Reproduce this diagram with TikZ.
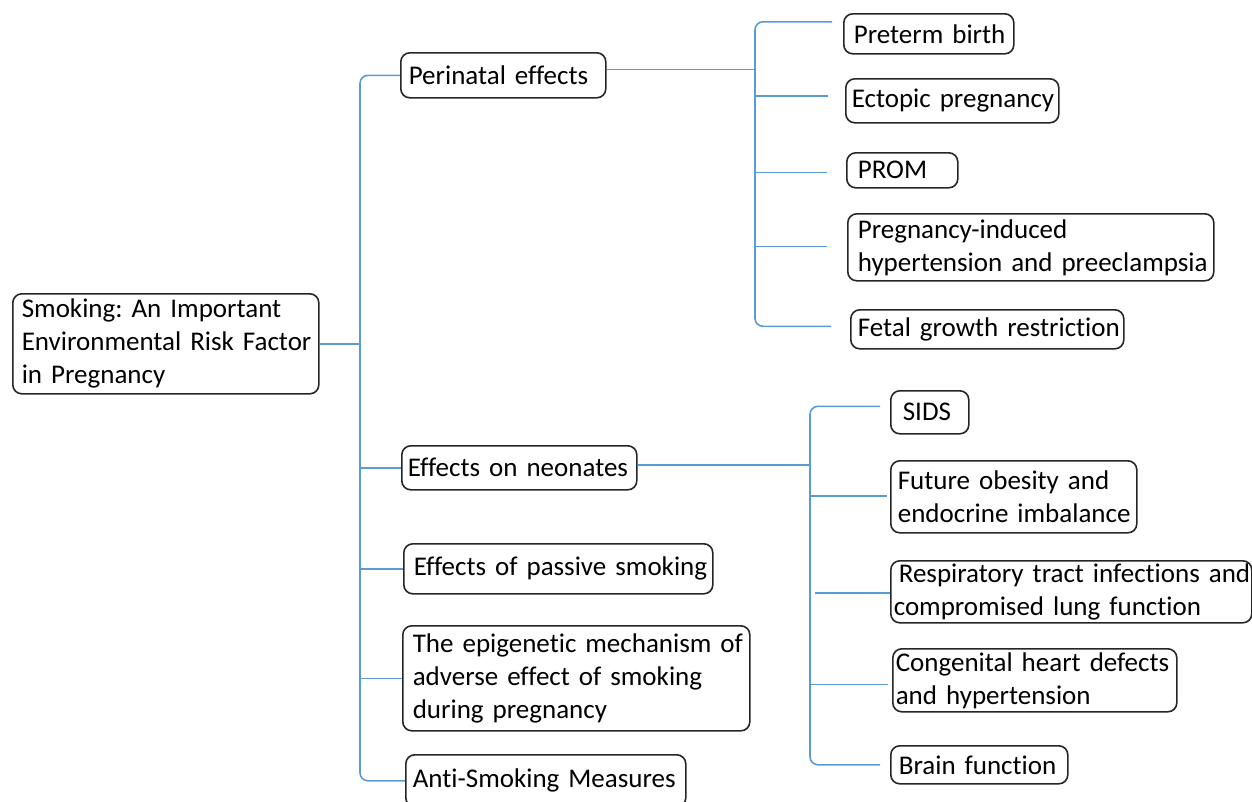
\documentclass[tikz,border=0pt]{standalone}
\usepackage{fontspec}
\setmainfont{Carlito}[Ligatures=NoCommon]
\definecolor{linec}{HTML}{5B9BD5}
\definecolor{boxc}{HTML}{262626}
\newcommand\oneline[1]{\mbox{#1}}
\begin{document}
\frenchspacing
\begin{tikzpicture}[x=1pt,y=-1pt,
  box/.style={draw=boxc, line width=1.6pt, rounded corners=9pt, fill=white,
    anchor=north west, align=left, inner ysep=0pt,
    font=\fontsize{27}{33}\selectfont\frenchspacing},
  conn/.style={draw=linec, line width=1.6pt, rounded corners=8pt}]
\useasboundingbox (0,0) rectangle (1252,801);
% level 0 / 1
\node[box, inner xsep=9pt, text width=288pt, minimum height=100pt] (root) at (12,293) {\oneline{Smoking: An Important}\\\oneline{Environmental Risk Factor}\\\oneline{in Pregnancy}};
\node[box, inner xsep=8pt, text width=189pt, minimum height=45pt] (peri) at (400,52) {\oneline{Perinatal effects}};
\node[box, inner xsep=6pt, text width=223pt, minimum height=44pt] (neo) at (401,445) {\oneline{Effects on neonates}};
\node[box, inner xsep=10pt, text width=289pt, minimum height=50pt] (pass) at (403,543) {\oneline{Effects of passive smoking}};
\node[box, inner xsep=10pt, text width=327pt, minimum height=105pt] (epi) at (402,625) {\oneline{The epigenetic mechanism of}\\\oneline{adverse effect of smoking}\\\oneline{during pregnancy}};
\node[box, inner xsep=7pt, text width=266pt, minimum height=52pt] (anti) at (405,754) {\oneline{Anti-Smoking Measures}};
% perinatal children
\node[box, inner xsep=10pt, text width=150pt, minimum height=40pt] (pre) at (843,13) {\oneline{Preterm birth}};
\node[box, inner xsep=6pt, text width=201pt, minimum height=44pt] (ect) at (845,78) {\oneline{Ectopic pregnancy}};
\node[box, inner xsep=11pt, text width=89pt, minimum height=35pt] (prom) at (846,152) {\oneline{PROM}};
\node[box, inner xsep=10pt, text width=346pt, minimum height=67pt] (preg) at (847,213) {\oneline{Pregnancy-induced}\\\oneline{hypertension and preeclampsia}};
\node[box, inner xsep=7pt, text width=259pt, minimum height=39pt] (fet) at (850,309) {\oneline{Fetal growth restriction}};
% neonate children
\node[box, inner xsep=12pt, text width=54pt, minimum height=43pt] (sids) at (890,390) {\oneline{SIDS}};
\node[box, inner xsep=7pt, text width=232pt, minimum height=72pt] (fut) at (890,460) {\oneline{Future obesity and}\\\oneline{endocrine imbalance}};
\node[box, inner xsep=3pt, text width=355pt, minimum height=62pt] (resp) at (890,560) {\oneline{\hspace{5pt}Respiratory tract infections and}\\\oneline{compromised lung function}};
\node[box, inner xsep=3pt, text width=278pt, minimum height=63pt] (cong) at (892,648) {\oneline{Congenital heart defects}\\\oneline{and hypertension}};
\node[box, inner xsep=8pt, text width=161pt, minimum height=38pt] (brain) at (890,745) {\oneline{Brain function}};
% trunks
\coordinate (t0) at (360,0);
\coordinate (t1) at (755,0);
\coordinate (t2) at (810,0);
% root tree
\draw[conn] (root.east) -- (t0 |- root.east);
\draw[conn] (peri.west) -| (t0 |- anti.west) -- (anti.west);
\draw[conn] (t0 |- neo.west) -- (neo.west);
\draw[conn] (t0 |- pass.west) -- (pass.west);
\draw[conn] (t0 |- epi.west) -- (epi.west);
% perinatal tree
\coordinate (pe) at ([yshift=6pt]peri.east);
\coordinate (preE) at ([xshift=-11pt,yshift=12pt]pre.west);
\coordinate (ectE) at ([xshift=-17pt,yshift=5pt]ect.west);
\coordinate (promE) at ([xshift=-19pt,yshift=-2pt]prom.west);
\coordinate (pregE) at ([xshift=-20pt,yshift=1pt]preg.west);
\coordinate (fetE) at ([xshift=-19pt,yshift=3pt]fet.west);
\draw[conn] (pe) -- (t1 |- pe);
\draw[conn] (preE) -| (t1 |- fetE) -- (fetE);
\draw[conn] (t1 |- ectE) -- (ectE);
\draw[conn] (t1 |- promE) -- (promE);
\draw[conn] (t1 |- pregE) -- (pregE);
% neonates tree
\coordinate (ne) at ([yshift=3pt]neo.east);
\coordinate (sidsE) at ([xshift=-10pt,yshift=6pt]sids.west);
\coordinate (futE) at ([xshift=-3pt,yshift=1pt]fut.west);
\coordinate (respE) at ([yshift=-1pt]resp.west);
\coordinate (congE) at ([xshift=-4pt,yshift=-4pt]cong.west);
\coordinate (brainE) at ([xshift=-10pt]brain.west);
\draw[conn] (ne) -- (t2 |- ne);
\draw[conn] (sidsE) -| (t2 |- brainE) -- (brainE);
\draw[conn] (t2 |- futE) -- (futE);
\draw[conn] ([xshift=5pt]t2 |- respE) -- (respE);
\draw[conn] (t2 |- congE) -- (congE);
\end{tikzpicture}
\end{document}
